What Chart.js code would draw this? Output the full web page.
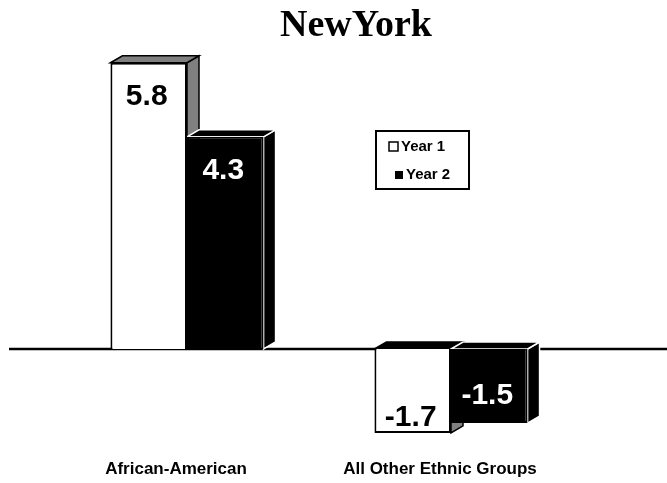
<!DOCTYPE html>
<html>
<head>
<meta charset="utf-8">
<script src="https://cdn.jsdelivr.net/npm/chart.js@4.4.0/dist/chart.umd.min.js"></script>
<style>
  html, body { margin: 0; padding: 0; background: #fff; }
  #wrap { width: 667px; height: 483px; position: relative; }
</style>
</head>
<body>
<div id="wrap"><canvas id="c"></canvas></div>
<script>
// data
const chartTitle = 'NewYork';
const categories = ['African-American', 'All Other Ethnic Groups'];
const seriesNames = ['Year 1', 'Year 2'];
const year1 = [5.8, -1.7];
const year2 = [4.3, -1.5];

// depth of the fake 3d bars
const DX = 12, DY = -7;

const bar3d = {
    id: 'bar3d',
    beforeDatasetsDraw(chart) {
        const ctx = chart.ctx;
        const y0 = chart.scales.y.getPixelForValue(0);
        // zero line across the page
        ctx.save();
        ctx.strokeStyle = '#000';
        ctx.lineWidth = 2.5;
        ctx.beginPath();
        ctx.moveTo(9, y0);
        ctx.lineTo(chart.width, y0);
        ctx.stroke();

        chart.data.datasets.forEach((ds, i) => {
            const meta = chart.getDatasetMeta(i);
            meta.data.forEach((bar, j) => {
                const p = bar.getProps(['x', 'y', 'base', 'width']);
                const l = p.x - p.width / 2, r = p.x + p.width / 2;
                const t = Math.min(p.y, p.base), b = Math.max(p.y, p.base);
                const neg = ds.data[j] < 0;
                ctx.lineWidth = ds.depthLine;
                ctx.strokeStyle = ds.depthStroke;
                // side
                ctx.fillStyle = ds.sideColor;
                ctx.beginPath();
                ctx.moveTo(r, t);
                ctx.lineTo(r + DX, t + DY);
                ctx.lineTo(r + DX, b + DY);
                ctx.lineTo(r, b);
                ctx.closePath();
                ctx.fill();
                ctx.stroke();
                // top
                ctx.fillStyle = neg ? ds.topNegColor : ds.sideColor;
                ctx.beginPath();
                ctx.moveTo(l, t);
                ctx.lineTo(l + DX, t + DY);
                ctx.lineTo(r + DX, t + DY);
                ctx.lineTo(r, t);
                ctx.closePath();
                ctx.fill();
                ctx.stroke();
            });
        });
        ctx.restore();
    },
    afterDatasetsDraw(chart) {
        const ctx = chart.ctx;
        ctx.save();
        ctx.font = 'bold 30px "Liberation Sans", Arial, sans-serif';
        ctx.textAlign = 'center';
        ctx.textBaseline = 'alphabetic';
        chart.data.datasets.forEach((ds, i) => {
            const meta = chart.getDatasetMeta(i);
            meta.data.forEach((bar, j) => {
                const v = ds.data[j];
                const p = bar.getProps(['x', 'y', 'base']);
                const t = Math.min(p.y, p.base), b = Math.max(p.y, p.base);
                const y = v >= 0 ? t + 42 : b - ds.negLabelGap;
                ctx.fillStyle = ds.labelColor;
                ctx.fillText(v.toFixed(1), p.x - 2, y);
            });
        });
        ctx.restore();
    },
    afterDraw(chart) {
        const ctx = chart.ctx;
        ctx.save();
        // title
        ctx.fillStyle = '#000';
        ctx.font = 'bold 38px "Liberation Serif", "Times New Roman", serif';
        ctx.textAlign = 'center';
        ctx.textBaseline = 'alphabetic';
        ctx.fillText(chartTitle, 356, 36);

        // legend box
        ctx.lineWidth = 2;
        ctx.strokeStyle = '#000';
        ctx.strokeRect(376, 131, 93, 58);
        ctx.font = 'bold 15px "Liberation Sans", Arial, sans-serif';
        ctx.textAlign = 'left';
        ctx.textBaseline = 'middle';
        chart.data.datasets.forEach((ds, i) => {
            const cy = 147 + i * 28;
            if (i === 0) {
                ctx.lineWidth = 1.5;
                ctx.fillStyle = '#fff';
                ctx.fillRect(389, cy - 5, 9, 9);
                ctx.strokeRect(389, cy - 5, 9, 9);
                ctx.fillStyle = '#000';
                ctx.fillText(ds.label, 401, cy);
            } else {
                ctx.fillStyle = '#000';
                ctx.fillRect(395, cy - 4, 8, 8);
                ctx.fillText(ds.label, 406, cy);
            }
        });
        ctx.restore();
    }
};

new Chart(document.getElementById('c'), {
    type: 'bar',
    data: {
        labels: categories,
        datasets: [
            {
                label: seriesNames[0],
                data: year1,
                backgroundColor: '#ffffff',
                borderColor: '#000000',
                borderWidth: 2,
                sideColor: '#808080',
                topNegColor: '#000000',
                depthStroke: '#000000',
                depthLine: 1.5,
                labelColor: '#000000',
                negLabelGap: 7
            },
            {
                label: seriesNames[1],
                data: year2,
                backgroundColor: '#000000',
                borderColor: '#000000',
                borderWidth: 2,
                sideColor: '#000000',
                topNegColor: '#000000',
                depthStroke: '#ffffff',
                depthLine: 1.5,
                labelColor: '#ffffff',
                negLabelGap: 19
            }
        ]
    },
    options: {
        responsive: true,
        maintainAspectRatio: false,
        animation: false,
        layout: { padding: { top: 43, left: 55, right: 84, bottom: 1 } },
        categoryPercentage: 0.58,
        barPercentage: 1.0,
        plugins: {
            legend: { display: false },
            title: { display: false },
            tooltip: { enabled: false }
        },
        scales: {
            x: {
                grid: { display: false, drawTicks: false },
                border: { display: false },
                ticks: {
                    color: '#000',
                    padding: 2,
                    labelOffset: -11,
                    font: { family: '"Liberation Sans", Arial, sans-serif', size: 17, weight: 'bold' }
                }
            },
            y: {
                display: false,
                min: -2.2,
                max: 6.2
            }
        }
    },
    plugins: [bar3d]
});
</script>
</body>
</html>
